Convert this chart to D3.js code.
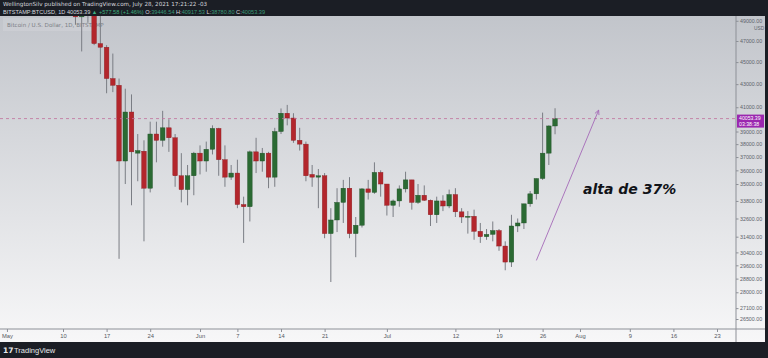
<!DOCTYPE html>
<html>
<head>
<meta charset="utf-8">
<script src="https://cdn.jsdelivr.net/npm/d3@7"></script>
<style>
  body { margin: 0; background: #1b1e25; }
  svg { display: block; font-family: "DejaVu Sans", sans-serif; }
</style>
</head>
<body>
<div id="chart"></div>
<script>
// daily candles, BITSTAMP:BTCUSD, May 10 .. Jul 28 2021
var open = [58250, 55850, 56700, 49400, 49700, 49900, 46750, 46400, 43500, 42900,
  36700, 40600, 37300, 37450, 34700, 38800, 38300, 39300, 38500, 35600,
  34600, 35600, 37300, 36700, 37600, 39250, 36800, 35500, 35800, 33550,
  33400, 37400, 36700, 37300, 35500, 39000, 40500, 40100, 38300, 38000,
  35700, 35500, 35600, 31600, 32500, 33700, 34700, 31600, 32150, 34650,
  34400, 35850, 35000, 33500, 33800, 34650, 35300, 33700, 34200, 33850,
  32850, 33800, 33450, 34250, 33050, 32700, 32750, 31750, 31400, 31550,
  31800, 30800, 29800, 32100, 32300, 33600, 34300, 35400, 37300, 39446.54];
var high = [59550, 56900, 58000, 51300, 51500, 50700, 49800, 46600, 45800, 43500,
  42600, 42100, 38800, 38300, 39800, 39800, 40700, 40000, 38800, 37300,
  36400, 37400, 37900, 38200, 39500, 39300, 37900, 36400, 36800, 34100,
  37500, 38500, 37700, 37400, 39300, 40900, 41200, 40500, 39300, 38200,
  36400, 36100, 35800, 33300, 34700, 35300, 35500, 32700, 34700, 35300,
  36600, 36000, 35000, 33900, 34900, 35900, 35300, 35000, 34900, 33900,
  34100, 34200, 34600, 34700, 33300, 33100, 33200, 32300, 31900, 32400,
  31900, 31100, 32850, 32600, 33600, 34500, 35400, 40550, 39500, 40917.53];
var low = [53400, 54200, 48600, 46000, 48800, 46600, 43900, 42200, 42300, 30000,
  35000, 33500, 35200, 31100, 34400, 36600, 37800, 37400, 34800, 33700,
  33500, 34200, 35700, 35900, 37200, 35600, 34800, 35300, 33300, 31000,
  32400, 35800, 35900, 34700, 34800, 38800, 39500, 38100, 37500, 35200,
  34800, 33300, 31300, 28600, 31700, 32300, 31300, 30100, 32000, 33900,
  34300, 34100, 32800, 32700, 33400, 34400, 33200, 33600, 33800, 32100,
  32300, 33100, 33300, 32700, 32300, 31600, 31200, 31000, 31200, 31100,
  30500, 29300, 29500, 31700, 31900, 33400, 33900, 35300, 36400, 38780.80];
var close = [55850, 56700, 49400, 49700, 49900, 46750, 46400, 43500, 42900, 36700,
  40600, 37400, 37500, 34700, 38800, 38300, 39300, 38500, 35600, 34600,
  35600, 37300, 36700, 37600, 39250, 36800, 35500, 35800, 33550, 33400,
  37400, 36700, 37300, 35500, 39000, 40500, 40100, 38300, 38000, 35600,
  35500, 35600, 31600, 32500, 33700, 34700, 31600, 32150, 34650, 34400,
  35850, 35000, 33500, 33800, 34650, 35300, 33700, 34200, 33850, 32850,
  33800, 33450, 34250, 33050, 32700, 32750, 31750, 31400, 31550, 31800,
  30800, 29800, 32100, 32300, 33600, 34300, 35400, 37300, 39450, 40053.39];

var lastPrice = 40053.39;
var priceTicks = [49000, 47000, 45000, 43000, 41000, 39000, 38000, 37000, 36000, 35000,
  33800, 32600, 31400, 30400, 29600, 28800, 28000, 27100, 26500];
var dateTicks = ["2021-05-01", "2021-05-10", "2021-05-17", "2021-05-24", "2021-06-01", "2021-06-07",
  "2021-06-14", "2021-06-21", "2021-07-01", "2021-07-12", "2021-07-19", "2021-07-26",
  "2021-08-01", "2021-08-09", "2021-08-16", "2021-08-23"];
var dateLabels = ["May", "10", "17", "24", "Jun", "7", "14", "21", "Jul", "12", "19", "26",
  "Aug", "9", "16", "23"];

var W = 768, H = 358;
var plotTop = 16, plotBottom = 329, axisX = 736, footTop = 342;
var axisFont = "Liberation Sans, Arial, sans-serif";

var days = d3.utcDay.range(new Date(Date.UTC(2021, 4, 10)), new Date(Date.UTC(2021, 6, 29)));
var candles = days.map(function (d, i) {
  return { date: d, o: open[i], h: high[i], l: low[i], c: close[i] };
});

var x = d3.scaleUtc()
  .domain([new Date(Date.UTC(2021, 4, 10)), new Date(Date.UTC(2021, 7, 23))])
  .range([63, 717]);
var y = d3.scaleLog()
  .domain([26500, 47000])
  .range([319, 41]);

var svg = d3.select("#chart").append("svg")
  .attr("width", W)
  .attr("height", H);

var defs = svg.append("defs");
var grad = defs.append("linearGradient")
  .attr("id", "bg")
  .attr("x1", 0).attr("y1", 0).attr("x2", 0).attr("y2", 1);
grad.append("stop").attr("offset", "0%").attr("stop-color", "#c2c5cb");
grad.append("stop").attr("offset", "100%").attr("stop-color", "#f7f7f8");

defs.append("clipPath").attr("id", "plotclip")
  .append("rect")
  .attr("x", 0).attr("y", plotTop)
  .attr("width", axisX).attr("height", plotBottom - plotTop);

// header + footer bands
svg.append("rect").attr("width", W).attr("height", H).attr("fill", "#1b1e25");
svg.append("rect")
  .attr("x", 0).attr("y", plotTop)
  .attr("width", W - 3).attr("height", footTop - plotTop)
  .attr("fill", "url(#bg)");

var head = svg.append("g").attr("font-size", 5.6);
head.append("text").attr("x", 3).attr("y", 6)
  .attr("fill", "#d6d8de")
  .text("WellingtonSilv published on TradingView.com, July 28, 2021 17:21:22 -03");
var row2 = head.append("text").attr("x", 3).attr("y", 13.5)
  .attr("font-family", axisFont)
  .attr("fill", "#d6d8de");
row2.append("tspan").text("BITSTAMP:BTCUSD, 1D  40053.39 ");
row2.append("tspan").attr("fill", "#3fae7e").text("▲ +577.58 (+1.46%) ");
[["O:", "39446.54"], ["H:", "40917.53"], ["L:", "38780.80"], ["C:", "40053.39"]].forEach(function (p) {
  row2.append("tspan").attr("fill", "#d6d8de").text(p[0]);
  row2.append("tspan").attr("fill", "#3a9a78").text(p[1] + " ");
});

// legend box
svg.append("rect")
  .attr("x", 3).attr("y", 18).attr("width", 90).attr("height", 13)
  .attr("fill", "#ffffff").attr("opacity", 0.12);
svg.append("text")
  .attr("x", 7).attr("y", 27)
  .attr("font-size", 5.6).attr("fill", "#7c7f86")
  .text("Bitcoin / U.S. Dollar, 1D, BITSTAMP");

// candles
var plot = svg.append("g").attr("clip-path", "url(#plotclip)");
var up = "#2b6a33", down = "#b3262c";
var bodyW = 4.6;

var candle = plot.selectAll("g.candle")
  .data(candles)
  .enter()
  .append("g")
  .attr("class", "candle");

candle.append("line")
  .attr("x1", function (d) { return x(d.date); })
  .attr("x2", function (d) { return x(d.date); })
  .attr("y1", function (d) { return y(d.h); })
  .attr("y2", function (d) { return y(d.l); })
  .attr("stroke", "#7a7d84")
  .attr("stroke-width", 1);

candle.append("rect")
  .attr("x", function (d) { return x(d.date) - bodyW / 2; })
  .attr("y", function (d) { return y(Math.max(d.o, d.c)); })
  .attr("width", bodyW)
  .attr("height", function (d) { return Math.max(1, Math.abs(y(d.o) - y(d.c))); })
  .attr("fill", function (d) { return d.c >= d.o ? up : down; })
  .attr("stroke", function (d) { return d.c >= d.o ? "#1f4f25" : "#8a1c21"; })
  .attr("stroke-width", 0.4);

// last price dashed line
svg.append("line")
  .attr("x1", 0).attr("x2", axisX)
  .attr("y1", y(lastPrice)).attr("y2", y(lastPrice))
  .attr("stroke", "#c0709a")
  .attr("stroke-width", 0.8)
  .attr("stroke-dasharray", "3,3");

// annotation arrow + text
var a0 = [x(new Date(Date.UTC(2021, 6, 25))), y(29900)];
var a1 = [x(new Date(Date.UTC(2021, 7, 4))), y(40760)];
svg.append("line")
  .attr("x1", a0[0]).attr("y1", a0[1])
  .attr("x2", a1[0]).attr("y2", a1[1])
  .attr("stroke", "#a56ab8").attr("stroke-width", 0.9);
var ang = Math.atan2(a1[1] - a0[1], a1[0] - a0[0]);
[0.45, -0.45].forEach(function (da) {
  svg.append("line")
    .attr("x1", a1[0]).attr("y1", a1[1])
    .attr("x2", a1[0] - 5 * Math.cos(ang + da))
    .attr("y2", a1[1] - 5 * Math.sin(ang + da))
    .attr("stroke", "#a56ab8").attr("stroke-width", 0.9);
});
svg.append("text")
  .attr("x", x(new Date(Date.UTC(2021, 7, 1, 12))))
  .attr("y", y(34300))
  .attr("font-size", 14)
  .attr("font-weight", "bold")
  .attr("font-style", "italic")
  .attr("fill", "#111318")
  .text("alta de 37%");

// price axis
svg.append("line")
  .attr("x1", axisX).attr("x2", axisX)
  .attr("y1", plotTop).attr("y2", footTop)
  .attr("stroke", "#8d9097").attr("stroke-width", 1);

var yAxis = d3.axisRight(y)
  .tickValues(priceTicks)
  .tickFormat(d3.format(".2f"))
  .tickSize(2.5)
  .tickPadding(1.5);
var gy = svg.append("g")
  .attr("transform", "translate(" + axisX + ",0)")
  .call(yAxis);
gy.select(".domain").remove();
gy.selectAll("line").attr("stroke", "#8d9097");
gy.selectAll("text")
  .attr("font-size", 5.3)
  .attr("fill", "#60636b")
  .attr("font-family", axisFont);

svg.append("text")
  .attr("x", 754).attr("y", 30)
  .attr("font-size", 4.8).attr("fill", "#60636b")
  .attr("font-family", axisFont)
  .text("USD");

// last price label
var ly = y(lastPrice);
svg.append("rect")
  .attr("x", axisX + 1).attr("y", ly - 4)
  .attr("width", 27).attr("height", 13)
  .attr("fill", "#9b27af");
svg.append("text")
  .attr("x", axisX + 3).attr("y", ly + 1.5)
  .attr("font-size", 5.2).attr("fill", "#ffffff")
  .attr("font-family", axisFont)
  .text("40053.39");
svg.append("text")
  .attr("x", axisX + 3).attr("y", ly + 7.5)
  .attr("font-size", 5.2).attr("fill", "#ffffff")
  .attr("font-family", axisFont)
  .text("03:38:38");

// time axis
svg.append("line")
  .attr("x1", 0).attr("x2", W - 3)
  .attr("y1", plotBottom).attr("y2", plotBottom)
  .attr("stroke", "#8d9097").attr("stroke-width", 1);

var xAxis = d3.axisBottom(x)
  .tickValues(dateTicks.map(function (s) { return new Date(s + "T00:00:00Z"); }))
  .tickFormat(function (d, i) { return dateLabels[i]; })
  .tickSize(3)
  .tickPadding(2);
var gx = svg.append("g")
  .attr("transform", "translate(0," + plotBottom + ")")
  .call(xAxis);
gx.select(".domain").remove();
gx.selectAll("line").attr("stroke", "#8d9097");
gx.selectAll("text")
  .attr("font-size", 5.8)
  .attr("fill", "#55585f")
  .attr("font-family", axisFont);

// footer logo
svg.append("text")
  .attr("x", 3).attr("y", 353)
  .attr("font-size", 7.5).attr("font-weight", "bold")
  .attr("fill", "#e8e9ec")
  .text("17");
svg.append("text")
  .attr("x", 14).attr("y", 353)
  .attr("font-size", 7.5)
  .attr("font-family", axisFont)
  .attr("fill", "#e8e9ec")
  .text("TradingView");
</script>
</body>
</html>
